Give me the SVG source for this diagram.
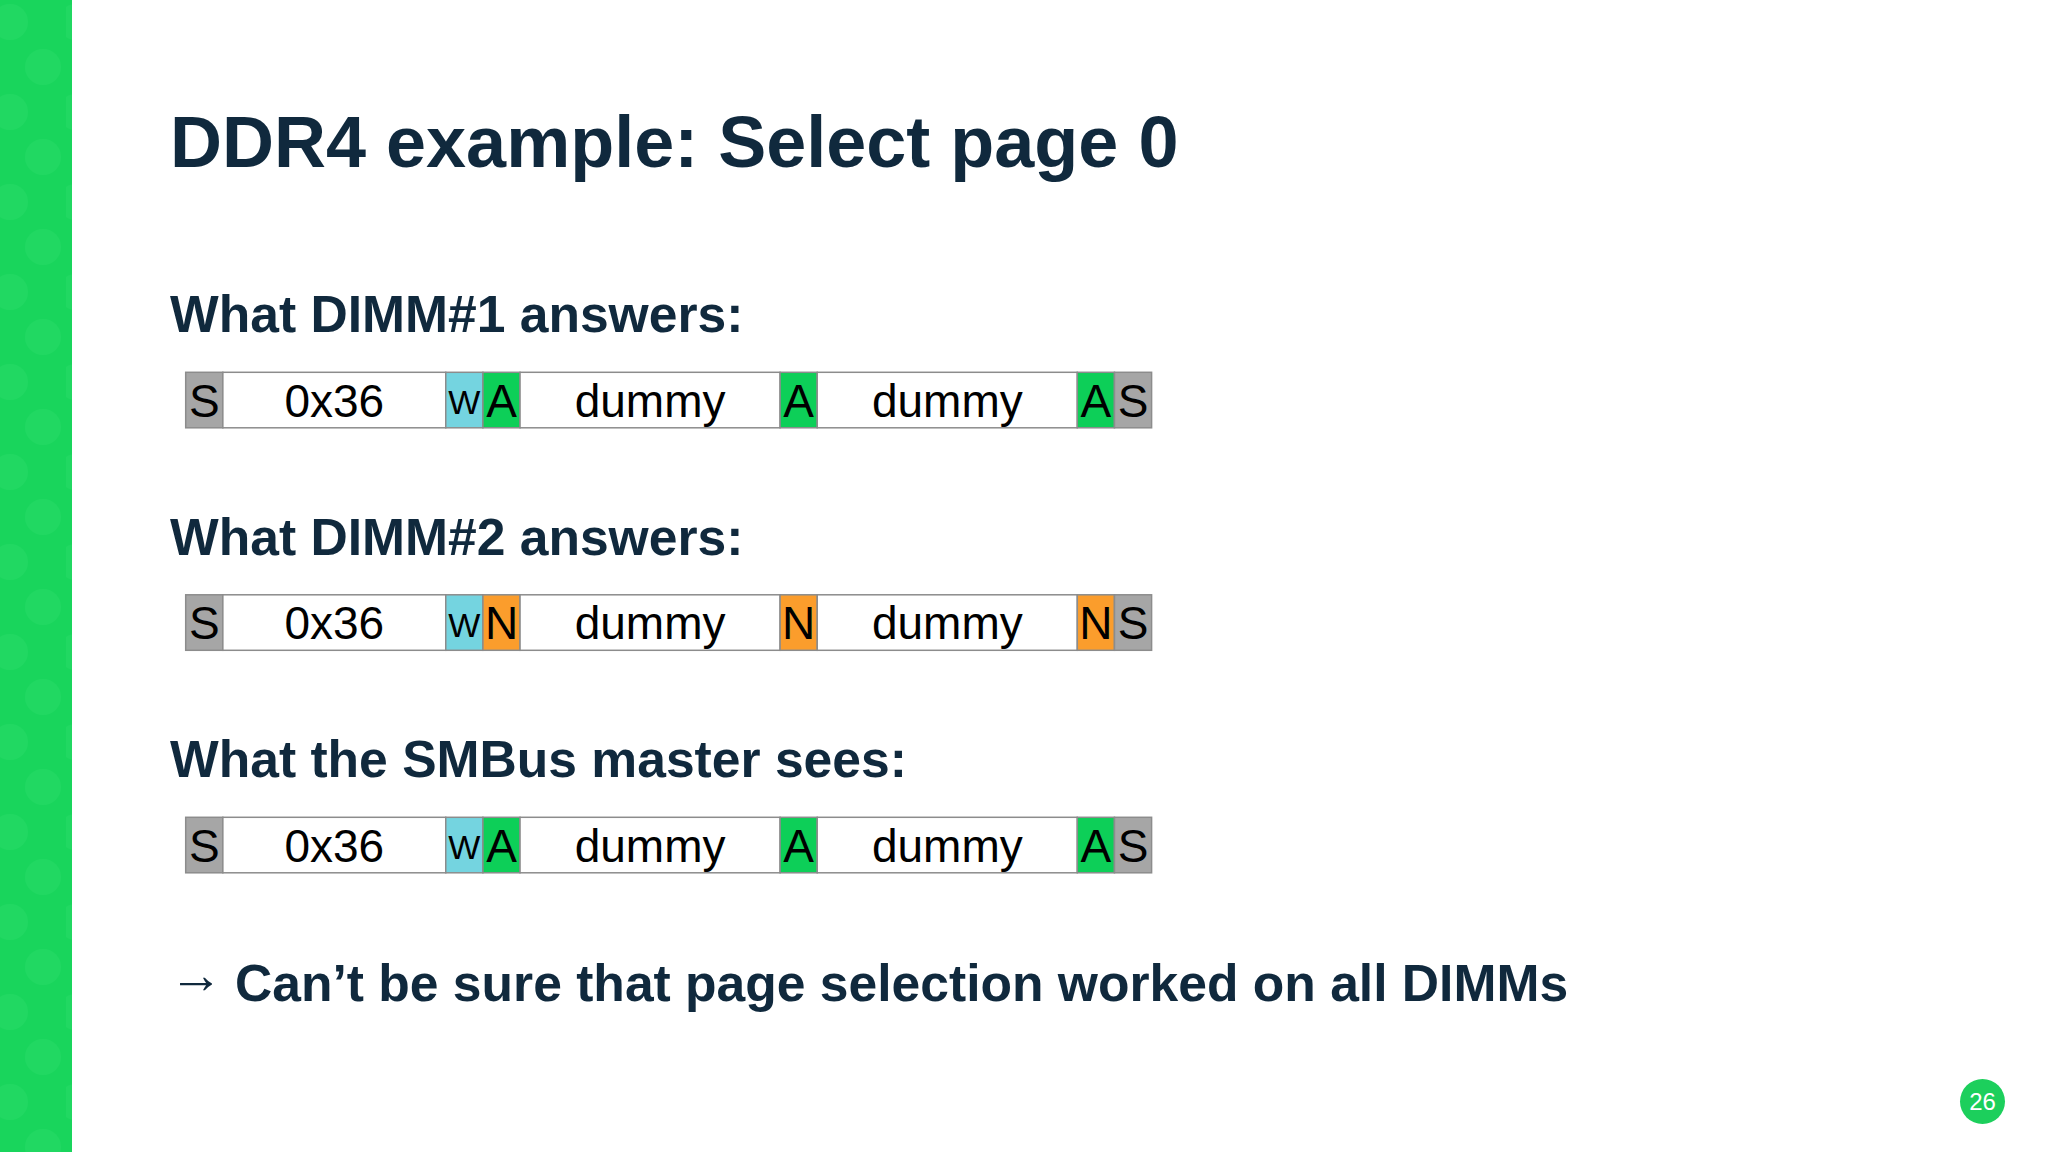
<svg xmlns="http://www.w3.org/2000/svg" width="2048" height="1152" viewBox="0 0 2048 1152">
  <style>
    .ttl { font-family: "Liberation Sans", Arial, sans-serif; font-weight: bold; fill: #10293d; }
    .cell { stroke: #8c8c8c; stroke-width: 1.5; }
    .s { fill: #a6a6a6; }
    .w { fill: #74d4e0; }
    .a { fill: #0dcf58; }
    .n { fill: #fb9d2c; }
    .d { fill: #ffffff; }
    .t { font-family: "Liberation Sans", Arial, sans-serif; font-size: 46px; fill: #000000; text-anchor: middle; }
    .tw { font-family: "Liberation Sans", Arial, sans-serif; font-size: 34px; fill: #000000; text-anchor: middle; }
  </style>
  <defs>
    <pattern id="dots" x="0" y="0" width="66" height="90" patternUnits="userSpaceOnUse">
      <circle cx="10" cy="22" r="18" fill="#2bdd68" opacity="0.45"/>
      <circle cx="43" cy="67" r="18" fill="#2bdd68" opacity="0.45"/>
      <circle cx="43" cy="-23" r="18" fill="#2bdd68" opacity="0.45"/>
      <circle cx="43" cy="113" r="18" fill="#2bdd68" opacity="0.45"/>
    </pattern>
  </defs>

  <rect x="0" y="0" width="2048" height="1152" fill="#ffffff"/>

  <g id="sidebar">
    <rect x="0" y="0" width="72" height="1152" fill="#19d55c"/>
    <rect x="0" y="0" width="72" height="1152" fill="url(#dots)"/>
  </g>

  <g id="title">
    <text class="ttl" x="170" y="167" font-size="72">DDR4 example: Select page 0</text>
  </g>

  <g id="heading1">
    <text class="ttl" x="170" y="332" font-size="51.6">What DIMM#1 answers:</text>
  </g>
  <g id="row1">
    <rect class="cell s" x="185.7" y="372.3" width="37.15" height="55.5"/>
    <rect class="cell d" x="222.85" y="372.3" width="222.9" height="55.5"/>
    <rect class="cell w" x="445.75" y="372.3" width="37.15" height="55.5"/>
    <rect class="cell a" x="482.9" y="372.3" width="37.15" height="55.5"/>
    <rect class="cell d" x="520.05" y="372.3" width="260.05" height="55.5"/>
    <rect class="cell a" x="780.1" y="372.3" width="37.15" height="55.5"/>
    <rect class="cell d" x="817.25" y="372.3" width="260.05" height="55.5"/>
    <rect class="cell a" x="1077.3" y="372.3" width="37.15" height="55.5"/>
    <rect class="cell s" x="1114.45" y="372.3" width="37.15" height="55.5"/>
    <text class="t" x="204.3" y="416.5">S</text>
    <text class="t" x="334.3" y="416.5">0x36</text>
    <text class="tw" x="464.3" y="414">W</text>
    <text class="t" x="501.5" y="416.5">A</text>
    <text class="t" x="650.1" y="416.5">dummy</text>
    <text class="t" x="798.7" y="416.5">A</text>
    <text class="t" x="947.3" y="416.5">dummy</text>
    <text class="t" x="1095.9" y="416.5">A</text>
    <text class="t" x="1133" y="416.5">S</text>
  </g>

  <g id="heading2">
    <text class="ttl" x="170" y="554.5" font-size="51.6">What DIMM#2 answers:</text>
  </g>
  <g id="row2">
    <rect class="cell s" x="185.7" y="594.8" width="37.15" height="55.5"/>
    <rect class="cell d" x="222.85" y="594.8" width="222.9" height="55.5"/>
    <rect class="cell w" x="445.75" y="594.8" width="37.15" height="55.5"/>
    <rect class="cell n" x="482.9" y="594.8" width="37.15" height="55.5"/>
    <rect class="cell d" x="520.05" y="594.8" width="260.05" height="55.5"/>
    <rect class="cell n" x="780.1" y="594.8" width="37.15" height="55.5"/>
    <rect class="cell d" x="817.25" y="594.8" width="260.05" height="55.5"/>
    <rect class="cell n" x="1077.3" y="594.8" width="37.15" height="55.5"/>
    <rect class="cell s" x="1114.45" y="594.8" width="37.15" height="55.5"/>
    <text class="t" x="204.3" y="639">S</text>
    <text class="t" x="334.3" y="639">0x36</text>
    <text class="tw" x="464.3" y="636.5">W</text>
    <text class="t" x="501.5" y="639">N</text>
    <text class="t" x="650.1" y="639">dummy</text>
    <text class="t" x="798.7" y="639">N</text>
    <text class="t" x="947.3" y="639">dummy</text>
    <text class="t" x="1095.9" y="639">N</text>
    <text class="t" x="1133" y="639">S</text>
  </g>

  <g id="heading3">
    <text class="ttl" x="170" y="777" font-size="51.6">What the SMBus master sees:</text>
  </g>
  <g id="row3">
    <rect class="cell s" x="185.7" y="817.3" width="37.15" height="55.5"/>
    <rect class="cell d" x="222.85" y="817.3" width="222.9" height="55.5"/>
    <rect class="cell w" x="445.75" y="817.3" width="37.15" height="55.5"/>
    <rect class="cell a" x="482.9" y="817.3" width="37.15" height="55.5"/>
    <rect class="cell d" x="520.05" y="817.3" width="260.05" height="55.5"/>
    <rect class="cell a" x="780.1" y="817.3" width="37.15" height="55.5"/>
    <rect class="cell d" x="817.25" y="817.3" width="260.05" height="55.5"/>
    <rect class="cell a" x="1077.3" y="817.3" width="37.15" height="55.5"/>
    <rect class="cell s" x="1114.45" y="817.3" width="37.15" height="55.5"/>
    <text class="t" x="204.3" y="861.5">S</text>
    <text class="t" x="334.3" y="861.5">0x36</text>
    <text class="tw" x="464.3" y="859">W</text>
    <text class="t" x="501.5" y="861.5">A</text>
    <text class="t" x="650.1" y="861.5">dummy</text>
    <text class="t" x="798.7" y="861.5">A</text>
    <text class="t" x="947.3" y="861.5">dummy</text>
    <text class="t" x="1095.9" y="861.5">A</text>
    <text class="t" x="1133" y="861.5">S</text>
  </g>

  <g id="conclusion">
    <text x="169" y="993" font-family="'Liberation Sans', 'DejaVu Sans', sans-serif" font-size="54" fill="#10293d">→</text>
    <text class="ttl" x="235" y="1001" font-size="51.6">Can’t be sure that page selection worked on all DIMMs</text>
  </g>

  <g id="pagenum">
    <circle cx="1982.5" cy="1101.5" r="22.5" fill="#1ccf5c"/>
    <text x="1982.5" y="1110" font-family="'Liberation Sans', Arial, sans-serif" font-size="24" fill="#ffffff" text-anchor="middle">26</text>
  </g>
</svg>
